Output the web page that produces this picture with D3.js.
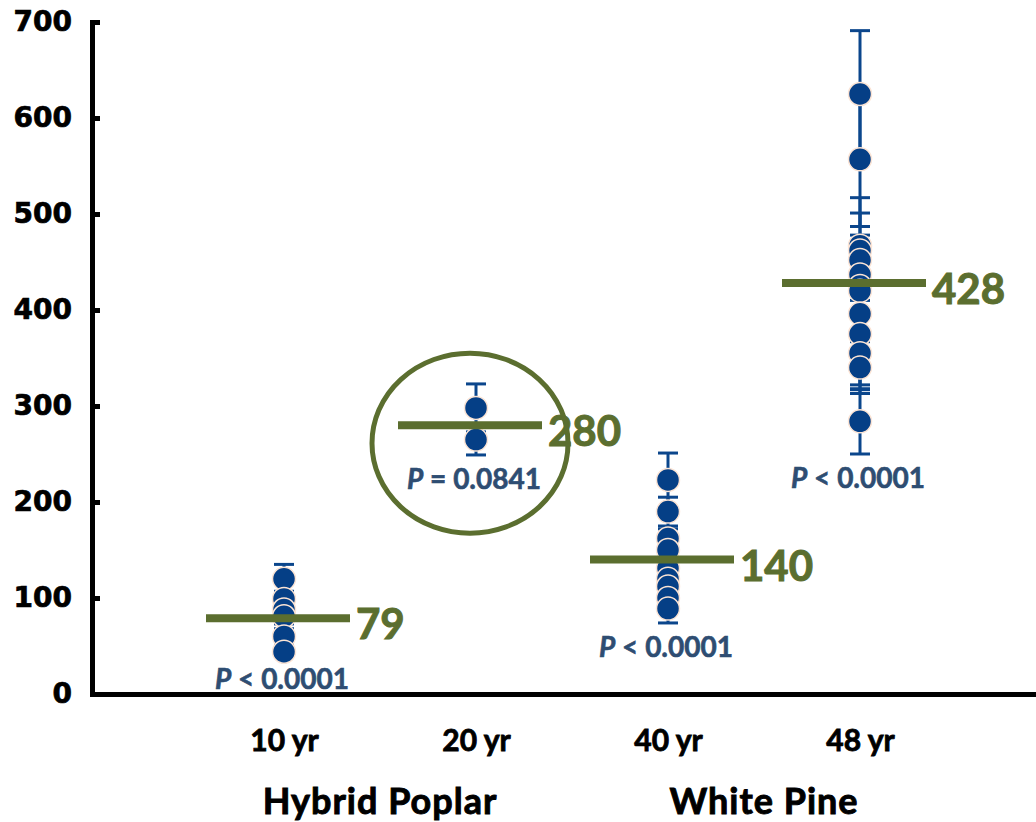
<!DOCTYPE html>
<html>
<head>
<meta charset="utf-8">
<script src="https://cdn.jsdelivr.net/npm/d3@7"></script>
<style>
  body { margin: 0; background: #fff; }
  svg { display: block; }
</style>
</head>
<body>
<div id="chart"></div>
<script>
// categories and tick labels
const ages = ['10 yr', '20 yr', '40 yr', '48 yr'];
const species = ['Hybrid Poplar', 'White Pine'];
const yTicks = [0, 100, 200, 300, 400, 500, 600, 700];

// individual tree values and their error bars, per age
const poplar10 = [120, 99, 88, 81, 60, 44];
const poplar10Err = [15, 8, 8, 8, 8, 3];
const poplar20 = [298, 265];
const poplar20Err = [25, 16];
const pine40 = [223, 190, 162, 150, 131, 120, 112, 100, 89];
const pine40Err = [28, 15, 10, 10, 10, 10, 10, 10, 15];
const pine48 = [625, 557, 467, 462, 452, 437, 425, 420, 396, 375, 355, 340, 284];
const pine48Err = [66, 70, 50, 39, 26, 20, 15, 20, 20, 53, 38, 27, 34];

const means = [79, 280, 140, 428];
const pLabels = ['P < 0.0001', 'P = 0.0841', 'P < 0.0001', 'P < 0.0001'];

const groups = [
  { age: ages[0], vals: poplar10, errs: poplar10Err },
  { age: ages[1], vals: poplar20, errs: poplar20Err },
  { age: ages[2], vals: pine40, errs: pine40Err },
  { age: ages[3], vals: pine48, errs: pine48Err }
];

const width = 1036, height = 822;
const olive = '#5b6e2f';
const navy = '#053f86';
const slate = '#2e4d72';

const svg = d3.select('#chart').append('svg')
  .attr('width', width)
  .attr('height', height);

const x = d3.scalePoint()
  .domain(ages)
  .range([92, 1052])
  .padding(1);

const y = d3.scaleLinear()
  .domain([0, 700])
  .range([694, 22]);

// make a text selection a little heavier
const heavy = (sel, color, w) => sel
  .attr('font-weight', 'bold')
  .attr('fill', color)
  .attr('stroke', color)
  .attr('stroke-width', w)
  .attr('paint-order', 'stroke');

// axes
const yAxis = d3.axisLeft(y).tickValues(yTicks).tickSize(-8).tickPadding(20);
svg.append('g')
  .attr('transform', 'translate(92,0)')
  .call(yAxis)
  .call(g => g.selectAll('path, line').attr('stroke', '#000').attr('stroke-width', 5))
  .call(g => g.selectAll('text')
    .attr('font-family', 'DejaVu Sans')
    .attr('font-size', 28)
    .call(heavy, '#000', 0.7));

const xAxis = d3.axisBottom(x).tickSize(0).tickSizeOuter(0).tickPadding(36);
svg.append('g')
  .attr('transform', 'translate(0,694)')
  .call(xAxis)
  .call(g => g.select('.domain').attr('stroke', '#000').attr('stroke-width', 5))
  .call(g => g.selectAll('text')
    .attr('font-family', 'Lato')
    .attr('font-size', 30)
    .call(heavy, '#000', 0.8));

// species labels under the pairs of ages
svg.append('g')
  .selectAll('text')
  .data(species)
  .join('text')
  .attr('x', (d, i) => (x(ages[i * 2]) + x(ages[i * 2 + 1])) / 2)
  .attr('y', 814)
  .attr('text-anchor', 'middle')
  .attr('font-family', 'Lato')
  .attr('font-size', 36)
  .attr('letter-spacing', 1)
  .call(heavy, '#000', 0.9)
  .text(d => d);

// flatten points
const points = groups.flatMap(g => g.vals.map((v, i) => ({ age: g.age, v, e: g.errs[i] })));

// error bars
const eb = svg.append('g')
  .attr('stroke', '#0b468c')
  .attr('stroke-width', 3)
  .selectAll('g')
  .data(points)
  .join('g');

eb.append('line')
  .attr('x1', d => x(d.age)).attr('x2', d => x(d.age))
  .attr('y1', d => y(d.v + d.e)).attr('y2', d => y(d.v - d.e));
eb.append('line')
  .attr('x1', d => x(d.age) - 10).attr('x2', d => x(d.age) + 10)
  .attr('y1', d => y(d.v + d.e)).attr('y2', d => y(d.v + d.e));
eb.append('line')
  .attr('x1', d => x(d.age) - 10).attr('x2', d => x(d.age) + 10)
  .attr('y1', d => y(d.v - d.e)).attr('y2', d => y(d.v - d.e));

// dots
svg.append('g')
  .selectAll('circle')
  .data(points)
  .join('circle')
  .attr('cx', d => x(d.age))
  .attr('cy', d => y(d.v))
  .attr('r', 11.5)
  .attr('fill', navy)
  .attr('stroke', '#fbe4d5')
  .attr('stroke-width', 1.5);

// mean lines + labels
svg.append('g')
  .selectAll('line')
  .data(means)
  .join('line')
  .attr('x1', (d, i) => x(ages[i]) - 78)
  .attr('x2', (d, i) => x(ages[i]) + 66)
  .attr('y1', d => y(d))
  .attr('y2', d => y(d))
  .attr('stroke', olive)
  .attr('stroke-width', 8);

svg.append('g')
  .selectAll('text')
  .data(means)
  .join('text')
  .attr('x', (d, i) => x(ages[i]) + 72)
  .attr('y', d => y(d))
  .attr('dy', '0.5em')
  .attr('font-family', 'Lato')
  .attr('font-size', 42)
  .call(heavy, olive, 1)
  .text(d => d);

// P values under each cluster
const pText = svg.append('g')
  .selectAll('text')
  .data(pLabels)
  .join('text')
  .attr('x', (d, i) => x(ages[i]) - 2)
  .attr('y', (d, i) => y(d3.min(groups[i].vals, (v, j) => v - groups[i].errs[j])) + 34)
  .attr('text-anchor', 'middle')
  .attr('font-family', 'Lato')
  .attr('font-size', 28)
  .call(heavy, slate, 0.6);

pText.append('tspan').attr('font-style', 'italic').text(d => d.slice(0, 1));
pText.append('tspan').text(d => d.slice(1));

// highlight circle around the 20 yr cluster
svg.append('ellipse')
  .attr('cx', x(ages[1]) - 6)
  .attr('cy', y(means[1]) + 18)
  .attr('rx', 98)
  .attr('ry', 90)
  .attr('fill', 'none')
  .attr('stroke', olive)
  .attr('stroke-width', 5);
</script>
</body>
</html>
